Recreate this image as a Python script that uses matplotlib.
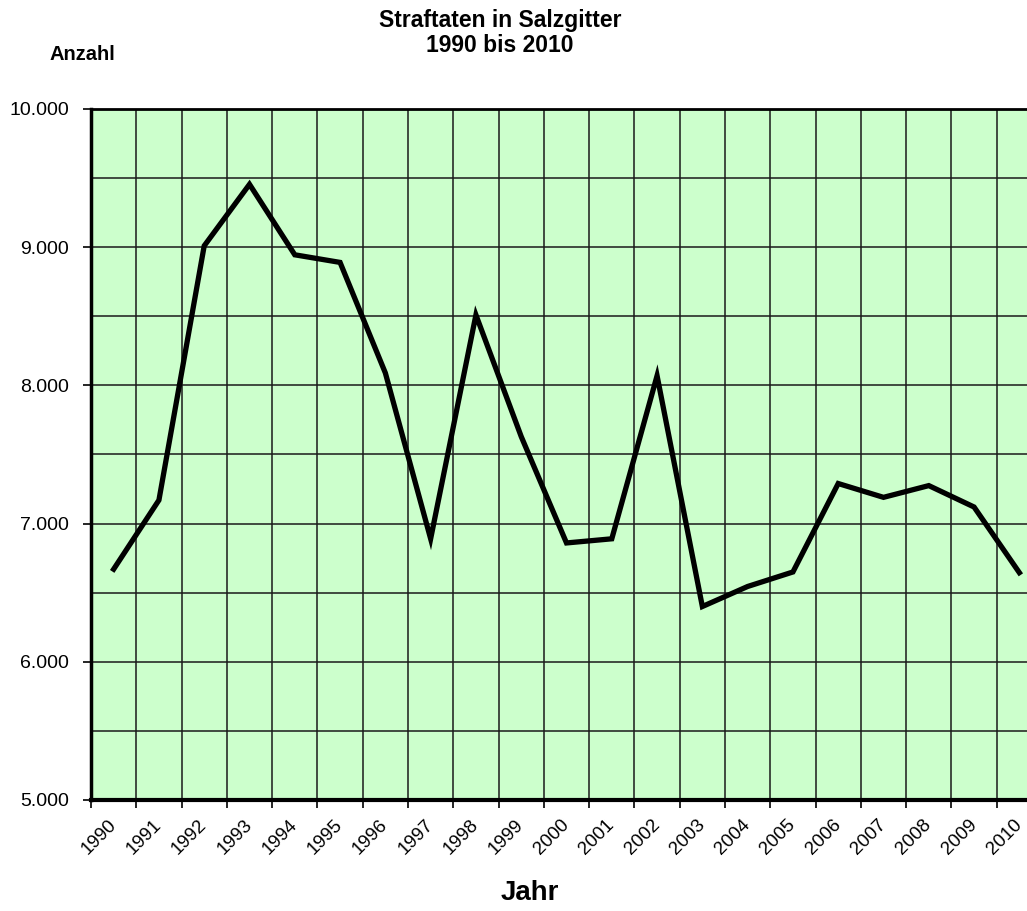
import numpy as np
import matplotlib
matplotlib.use("Agg")
import matplotlib.pyplot as plt
from matplotlib.ticker import MultipleLocator, FuncFormatter

plt.rcParams['font.family'] = ['Liberation Sans', 'DejaVu Sans']

# data
jahre = [str(j) for j in range(1990, 2011)]
anzahl = [6670, 7170, 9010, 9455, 8945, 8890, 8090, 6890, 8510, 7630,
          6860, 6890, 8070, 6400, 6545, 6650, 7290, 7190, 7275, 7120, 6645]

fig = plt.figure(figsize=(10.27, 9.11), dpi=100)
# plot area runs a bit past the right edge, like the source
ax = fig.add_axes([91/1027, 1 - 800/911, 951/1027, 691/911])
ax.set_facecolor('#CCFFCC')

x = np.arange(len(jahre))
ax.plot(x, anzahl, color='black', lw=3.8, solid_joinstyle='miter', zorder=3)

ax.set_xlim(-0.5, len(jahre) - 0.5)
ax.set_ylim(5000, 10000)

# y axis: labels every 1000, grid every 500
ax.yaxis.set_major_locator(MultipleLocator(1000))
ax.yaxis.set_minor_locator(MultipleLocator(500))
ax.yaxis.set_major_formatter(FuncFormatter(lambda v, p: f"{int(v):,}".replace(',', '.')))
ax.tick_params(axis='y', which='major', direction='out', length=6, width=1.2,
               pad=10, labelsize=14, colors='black')
ax.tick_params(axis='y', which='minor', length=0)
ax.grid(axis='y', which='both', color='#1a1a1a', lw=1.1, zorder=1)

# x axis: tick marks on category edges, labels end at the category middle
ax.set_xticks(x)
ax.set_xticklabels(jahre, rotation=45, ha='right', va='center',
                   rotation_mode='anchor', fontsize=13.5)
ax.tick_params(axis='x', which='major', length=0, pad=16)
ax.set_xticks(np.arange(-0.5, len(jahre)), minor=True)
ax.tick_params(axis='x', which='minor', direction='out', length=6, width=1.2)
ax.grid(axis='x', which='minor', color='#1a1a1a', lw=1.1, zorder=1)

for side, w in [('left', 2.5), ('bottom', 3), ('top', 2), ('right', 1)]:
    ax.spines[side].set_color('black')
    ax.spines[side].set_linewidth(w)

fig.text(500/1027, 1 - 20/911, 'Straftaten in Salzgitter', ha='center', va='center',
         fontsize=16.5, fontweight='bold')
fig.text(500/1027, 1 - 45/911, '1990 bis 2010', ha='center', va='center',
         fontsize=16.5, fontweight='bold')
fig.text(50/1027, 1 - 55/911, 'Anzahl', ha='left', va='center',
         fontsize=14.5, fontweight='bold')
fig.text(530/1027, 1 - 893/911, 'Jahr', ha='center', va='center',
         fontsize=20, fontweight='bold')

fig.savefig('out.png', dpi=100)
